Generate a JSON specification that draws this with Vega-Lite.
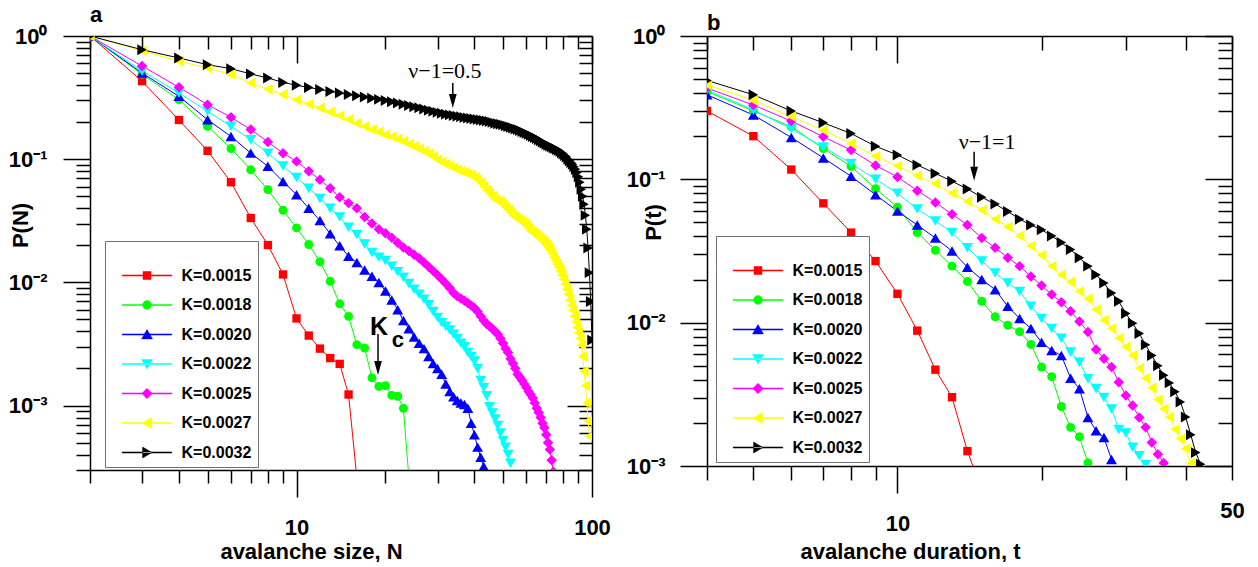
{
"$schema": "https://vega.github.io/schema/vega-lite/v6.json",
"background": "white",
"padding": {"left": 8, "top": 4, "right": 5, "bottom": 0},
"spacing": 15,
"config": {
 "view": {"stroke": null},
 "font": "Liberation Sans",
 "axis": {"domainColor": "#000", "domainWidth": 1.5, "tickColor": "#000", "tickWidth": 1.5, "grid": false, "labelFont": "Liberation Sans", "labelFontWeight": "bold", "labelFontSize": 22, "labelColor": "#000", "titleFont": "Liberation Sans", "titleFontWeight": "bold", "titleFontSize": 22, "titleColor": "#000", "labelOverlap": false, "labelFlush": false, "labelBound": false},
 "title": {"anchor": "start", "frame": "group", "font": "Liberation Sans", "fontSize": 22, "fontWeight": "bold", "color": "#000", "offset": -2, "baseline": "alphabetic"},
 "legend": {"orient": "none", "titleFontSize": 14, "titlePadding": 6, "padding": 6, "strokeColor": "#707070", "fillColor": "white", "labelFont": "Liberation Sans", "labelFontWeight": "bold", "labelFontSize": 16, "labelColor": "#000", "symbolSize": 256, "symbolOffset": 27.5, "labelOffset": 26, "rowPadding": 12.5, "symbolOpacity": 1, "symbolStrokeWidth": 1}
},
"resolve": {"scale": {"color": "independent"}, "legend": {"color": "independent"}},
"datasets": {
"a": [
{"k":"K=0.0015","n":2,"p":1},{"k":"K=0.0015","n":3,"p":0.43},{"k":"K=0.0015","n":4,"p":0.208},{"k":"K=0.0015","n":5,"p":0.117},{"k":"K=0.0015","n":6,"p":0.065},{"k":"K=0.0015","n":7,"p":0.0333},{"k":"K=0.0015","n":8,"p":0.0201},{"k":"K=0.0015","n":9,"p":0.0116},{"k":"K=0.0015","n":10,"p":0.0051},{"k":"K=0.0015","n":11,"p":0.0037},{"k":"K=0.0015","n":12,"p":0.0029},{"k":"K=0.0015","n":13,"p":0.00243},{"k":"K=0.0015","n":14,"p":0.00218},{"k":"K=0.0015","n":15,"p":0.00123},{"k":"K=0.0015","n":16,"p":0.00026},
{"k":"K=0.0018","n":2,"p":1},{"k":"K=0.0018","n":3,"p":0.49},{"k":"K=0.0018","n":4,"p":0.304},{"k":"K=0.0018","n":5,"p":0.185},{"k":"K=0.0018","n":6,"p":0.122},{"k":"K=0.0018","n":7,"p":0.082},{"k":"K=0.0018","n":8,"p":0.0566},{"k":"K=0.0018","n":9,"p":0.0385},{"k":"K=0.0018","n":10,"p":0.0277},{"k":"K=0.0018","n":11,"p":0.0203},{"k":"K=0.0018","n":12,"p":0.0147},{"k":"K=0.0018","n":13,"p":0.0102},{"k":"K=0.0018","n":14,"p":0.0067},{"k":"K=0.0018","n":15,"p":0.0053},{"k":"K=0.0018","n":16,"p":0.00312},{"k":"K=0.0018","n":17,"p":0.00293},{"k":"K=0.0018","n":18,"p":0.00168},{"k":"K=0.0018","n":19,"p":0.00143},{"k":"K=0.0018","n":20,"p":0.00145},{"k":"K=0.0018","n":21,"p":0.00121},{"k":"K=0.0018","n":22,"p":0.00119},{"k":"K=0.0018","n":23,"p":0.00095},{"k":"K=0.0018","n":24,"p":0.00026},
{"k":"K=0.0020","n":2,"p":1},{"k":"K=0.0020","n":3,"p":0.5},{"k":"K=0.0020","n":4,"p":0.324},{"k":"K=0.0020","n":5,"p":0.209},{"k":"K=0.0020","n":6,"p":0.153},{"k":"K=0.0020","n":7,"p":0.112},{"k":"K=0.0020","n":8,"p":0.0875},{"k":"K=0.0020","n":9,"p":0.066},{"k":"K=0.0020","n":10,"p":0.0515},{"k":"K=0.0020","n":11,"p":0.04},{"k":"K=0.0020","n":12,"p":0.0318},{"k":"K=0.0020","n":13,"p":0.0248},{"k":"K=0.0020","n":14,"p":0.0198},{"k":"K=0.0020","n":15,"p":0.0163},{"k":"K=0.0020","n":16,"p":0.0145},{"k":"K=0.0020","n":17,"p":0.0126},{"k":"K=0.0020","n":18,"p":0.0112},{"k":"K=0.0020","n":19,"p":0.01},{"k":"K=0.0020","n":20,"p":0.0085},{"k":"K=0.0020","n":21,"p":0.0072},{"k":"K=0.0020","n":22,"p":0.006},{"k":"K=0.0020","n":23,"p":0.0049},{"k":"K=0.0020","n":24,"p":0.0042},{"k":"K=0.0020","n":25,"p":0.0036},{"k":"K=0.0020","n":26,"p":0.0032},{"k":"K=0.0020","n":27,"p":0.0029},{"k":"K=0.0020","n":28,"p":0.0025},{"k":"K=0.0020","n":29,"p":0.0022},{"k":"K=0.0020","n":30,"p":0.002},{"k":"K=0.0020","n":31,"p":0.0018},{"k":"K=0.0020","n":32,"p":0.0015},{"k":"K=0.0020","n":33,"p":0.0013},{"k":"K=0.0020","n":34,"p":0.00118},{"k":"K=0.0020","n":35,"p":0.0011},{"k":"K=0.0020","n":36,"p":0.00105},{"k":"K=0.0020","n":37,"p":0.00102},{"k":"K=0.0020","n":38,"p":0.00095},{"k":"K=0.0020","n":39,"p":0.00072},{"k":"K=0.0020","n":40,"p":0.00058},{"k":"K=0.0020","n":41,"p":0.00046},{"k":"K=0.0020","n":42,"p":0.00038},{"k":"K=0.0020","n":43,"p":0.00032},
{"k":"K=0.0022","n":2,"p":1},{"k":"K=0.0022","n":3,"p":0.52},{"k":"K=0.0022","n":4,"p":0.345},{"k":"K=0.0022","n":5,"p":0.245},{"k":"K=0.0022","n":6,"p":0.185},{"k":"K=0.0022","n":7,"p":0.144},{"k":"K=0.0022","n":8,"p":0.112},{"k":"K=0.0022","n":9,"p":0.088},{"k":"K=0.0022","n":10,"p":0.071},{"k":"K=0.0022","n":11,"p":0.058},{"k":"K=0.0022","n":12,"p":0.048},{"k":"K=0.0022","n":13,"p":0.04},{"k":"K=0.0022","n":14,"p":0.034},{"k":"K=0.0022","n":15,"p":0.028},{"k":"K=0.0022","n":16,"p":0.0245},{"k":"K=0.0022","n":17,"p":0.0205},{"k":"K=0.0022","n":18,"p":0.0175},{"k":"K=0.0022","n":19,"p":0.016},{"k":"K=0.0022","n":20,"p":0.015},{"k":"K=0.0022","n":21,"p":0.0135},{"k":"K=0.0022","n":22,"p":0.0122},{"k":"K=0.0022","n":23,"p":0.011},{"k":"K=0.0022","n":24,"p":0.0098},{"k":"K=0.0022","n":25,"p":0.0088},{"k":"K=0.0022","n":26,"p":0.008},{"k":"K=0.0022","n":27,"p":0.0073},{"k":"K=0.0022","n":28,"p":0.0066},{"k":"K=0.0022","n":29,"p":0.0058},{"k":"K=0.0022","n":30,"p":0.0052},{"k":"K=0.0022","n":31,"p":0.0047},{"k":"K=0.0022","n":32,"p":0.0044},{"k":"K=0.0022","n":33,"p":0.0041},{"k":"K=0.0022","n":34,"p":0.0038},{"k":"K=0.0022","n":35,"p":0.0035},{"k":"K=0.0022","n":36,"p":0.0032},{"k":"K=0.0022","n":37,"p":0.003},{"k":"K=0.0022","n":38,"p":0.0027},{"k":"K=0.0022","n":39,"p":0.0025},{"k":"K=0.0022","n":40,"p":0.0023},{"k":"K=0.0022","n":41,"p":0.002},{"k":"K=0.0022","n":42,"p":0.0016},{"k":"K=0.0022","n":43,"p":0.0014},{"k":"K=0.0022","n":44,"p":0.0012},{"k":"K=0.0022","n":45,"p":0.00098},{"k":"K=0.0022","n":46,"p":0.00087},{"k":"K=0.0022","n":47,"p":0.00078},{"k":"K=0.0022","n":48,"p":0.00069},{"k":"K=0.0022","n":49,"p":0.0006},{"k":"K=0.0022","n":50,"p":0.00052},{"k":"K=0.0022","n":51,"p":0.00046},{"k":"K=0.0022","n":52,"p":0.0004},{"k":"K=0.0022","n":53,"p":0.00034},
{"k":"K=0.0025","n":2,"p":1},{"k":"K=0.0025","n":3,"p":0.57},{"k":"K=0.0025","n":4,"p":0.383},{"k":"K=0.0025","n":5,"p":0.277},{"k":"K=0.0025","n":6,"p":0.219},{"k":"K=0.0025","n":7,"p":0.174},{"k":"K=0.0025","n":8,"p":0.138},{"k":"K=0.0025","n":9,"p":0.112},{"k":"K=0.0025","n":10,"p":0.096},{"k":"K=0.0025","n":11,"p":0.08},{"k":"K=0.0025","n":12,"p":0.068},{"k":"K=0.0025","n":13,"p":0.058},{"k":"K=0.0025","n":14,"p":0.049},{"k":"K=0.0025","n":15,"p":0.044},{"k":"K=0.0025","n":16,"p":0.04},{"k":"K=0.0025","n":17,"p":0.034},{"k":"K=0.0025","n":18,"p":0.03},{"k":"K=0.0025","n":19,"p":0.027},{"k":"K=0.0025","n":20,"p":0.025},{"k":"K=0.0025","n":21,"p":0.023},{"k":"K=0.0025","n":22,"p":0.021},{"k":"K=0.0025","n":23,"p":0.0192},{"k":"K=0.0025","n":24,"p":0.018},{"k":"K=0.0025","n":25,"p":0.0168},{"k":"K=0.0025","n":26,"p":0.0157},{"k":"K=0.0025","n":27,"p":0.0145},{"k":"K=0.0025","n":28,"p":0.0134},{"k":"K=0.0025","n":29,"p":0.0124},{"k":"K=0.0025","n":30,"p":0.0115},{"k":"K=0.0025","n":31,"p":0.0106},{"k":"K=0.0025","n":32,"p":0.0098},{"k":"K=0.0025","n":33,"p":0.009},{"k":"K=0.0025","n":34,"p":0.0082},{"k":"K=0.0025","n":35,"p":0.0077},{"k":"K=0.0025","n":36,"p":0.0074},{"k":"K=0.0025","n":37,"p":0.0071},{"k":"K=0.0025","n":38,"p":0.0068},{"k":"K=0.0025","n":39,"p":0.0065},{"k":"K=0.0025","n":40,"p":0.0062},{"k":"K=0.0025","n":41,"p":0.0058},{"k":"K=0.0025","n":42,"p":0.0053},{"k":"K=0.0025","n":43,"p":0.0049},{"k":"K=0.0025","n":44,"p":0.0046},{"k":"K=0.0025","n":45,"p":0.0044},{"k":"K=0.0025","n":46,"p":0.0042},{"k":"K=0.0025","n":47,"p":0.004},{"k":"K=0.0025","n":48,"p":0.0038},{"k":"K=0.0025","n":49,"p":0.0035},{"k":"K=0.0025","n":50,"p":0.0032},{"k":"K=0.0025","n":51,"p":0.0029},{"k":"K=0.0025","n":52,"p":0.0027},{"k":"K=0.0025","n":53,"p":0.0024},{"k":"K=0.0025","n":54,"p":0.0022},{"k":"K=0.0025","n":55,"p":0.002},{"k":"K=0.0025","n":56,"p":0.0018},{"k":"K=0.0025","n":57,"p":0.0017},{"k":"K=0.0025","n":58,"p":0.0016},{"k":"K=0.0025","n":59,"p":0.0015},{"k":"K=0.0025","n":60,"p":0.0014},{"k":"K=0.0025","n":61,"p":0.0013},{"k":"K=0.0025","n":62,"p":0.00123},{"k":"K=0.0025","n":63,"p":0.00115},{"k":"K=0.0025","n":64,"p":0.00105},{"k":"K=0.0025","n":65,"p":0.00095},{"k":"K=0.0025","n":66,"p":0.00088},{"k":"K=0.0025","n":67,"p":0.0008},{"k":"K=0.0025","n":68,"p":0.00072},{"k":"K=0.0025","n":69,"p":0.00066},{"k":"K=0.0025","n":70,"p":0.00058},{"k":"K=0.0025","n":71,"p":0.0005},{"k":"K=0.0025","n":72,"p":0.00044},{"k":"K=0.0025","n":73,"p":0.00036},{"k":"K=0.0025","n":74,"p":0.00029},
{"k":"K=0.0027","n":2,"p":1},{"k":"K=0.0027","n":3,"p":0.76},{"k":"K=0.0027","n":4,"p":0.623},{"k":"K=0.0027","n":5,"p":0.55},{"k":"K=0.0027","n":6,"p":0.485},{"k":"K=0.0027","n":7,"p":0.415},{"k":"K=0.0027","n":8,"p":0.37},{"k":"K=0.0027","n":9,"p":0.335},{"k":"K=0.0027","n":10,"p":0.302},{"k":"K=0.0027","n":11,"p":0.28},{"k":"K=0.0027","n":12,"p":0.26},{"k":"K=0.0027","n":13,"p":0.242},{"k":"K=0.0027","n":14,"p":0.225},{"k":"K=0.0027","n":15,"p":0.21},{"k":"K=0.0027","n":16,"p":0.196},{"k":"K=0.0027","n":17,"p":0.184},{"k":"K=0.0027","n":18,"p":0.174},{"k":"K=0.0027","n":19,"p":0.166},{"k":"K=0.0027","n":20,"p":0.158},{"k":"K=0.0027","n":21,"p":0.152},{"k":"K=0.0027","n":22,"p":0.146},{"k":"K=0.0027","n":23,"p":0.14},{"k":"K=0.0027","n":24,"p":0.133},{"k":"K=0.0027","n":25,"p":0.127},{"k":"K=0.0027","n":26,"p":0.121},{"k":"K=0.0027","n":27,"p":0.116},{"k":"K=0.0027","n":28,"p":0.111},{"k":"K=0.0027","n":29,"p":0.105},{"k":"K=0.0027","n":30,"p":0.099},{"k":"K=0.0027","n":31,"p":0.095},{"k":"K=0.0027","n":32,"p":0.091},{"k":"K=0.0027","n":33,"p":0.088},{"k":"K=0.0027","n":34,"p":0.085},{"k":"K=0.0027","n":35,"p":0.082},{"k":"K=0.0027","n":36,"p":0.08},{"k":"K=0.0027","n":37,"p":0.078},{"k":"K=0.0027","n":38,"p":0.076},{"k":"K=0.0027","n":39,"p":0.074},{"k":"K=0.0027","n":40,"p":0.071},{"k":"K=0.0027","n":41,"p":0.068},{"k":"K=0.0027","n":42,"p":0.064},{"k":"K=0.0027","n":43,"p":0.06},{"k":"K=0.0027","n":44,"p":0.056},{"k":"K=0.0027","n":45,"p":0.053},{"k":"K=0.0027","n":46,"p":0.05},{"k":"K=0.0027","n":47,"p":0.047},{"k":"K=0.0027","n":48,"p":0.046},{"k":"K=0.0027","n":49,"p":0.045},{"k":"K=0.0027","n":50,"p":0.043},{"k":"K=0.0027","n":51,"p":0.041},{"k":"K=0.0027","n":52,"p":0.039},{"k":"K=0.0027","n":53,"p":0.037},{"k":"K=0.0027","n":54,"p":0.035},{"k":"K=0.0027","n":55,"p":0.034},{"k":"K=0.0027","n":56,"p":0.033},{"k":"K=0.0027","n":57,"p":0.032},{"k":"K=0.0027","n":58,"p":0.031},{"k":"K=0.0027","n":59,"p":0.03},{"k":"K=0.0027","n":60,"p":0.029},{"k":"K=0.0027","n":61,"p":0.0275},{"k":"K=0.0027","n":62,"p":0.026},{"k":"K=0.0027","n":63,"p":0.0255},{"k":"K=0.0027","n":64,"p":0.0248},{"k":"K=0.0027","n":65,"p":0.024},{"k":"K=0.0027","n":66,"p":0.0232},{"k":"K=0.0027","n":67,"p":0.0225},{"k":"K=0.0027","n":68,"p":0.0217},{"k":"K=0.0027","n":69,"p":0.021},{"k":"K=0.0027","n":70,"p":0.02},{"k":"K=0.0027","n":71,"p":0.0192},{"k":"K=0.0027","n":72,"p":0.0183},{"k":"K=0.0027","n":73,"p":0.0172},{"k":"K=0.0027","n":74,"p":0.016},{"k":"K=0.0027","n":75,"p":0.015},{"k":"K=0.0027","n":76,"p":0.0141},{"k":"K=0.0027","n":77,"p":0.0133},{"k":"K=0.0027","n":78,"p":0.0124},{"k":"K=0.0027","n":79,"p":0.0115},{"k":"K=0.0027","n":80,"p":0.0106},{"k":"K=0.0027","n":81,"p":0.0097},{"k":"K=0.0027","n":82,"p":0.0088},{"k":"K=0.0027","n":83,"p":0.008},{"k":"K=0.0027","n":84,"p":0.0072},{"k":"K=0.0027","n":85,"p":0.0065},{"k":"K=0.0027","n":86,"p":0.0059},{"k":"K=0.0027","n":87,"p":0.0053},{"k":"K=0.0027","n":88,"p":0.0048},{"k":"K=0.0027","n":89,"p":0.0043},{"k":"K=0.0027","n":90,"p":0.0039},{"k":"K=0.0027","n":91,"p":0.0035},{"k":"K=0.0027","n":92,"p":0.0031},{"k":"K=0.0027","n":93,"p":0.0025},{"k":"K=0.0027","n":94,"p":0.0019},{"k":"K=0.0027","n":95,"p":0.00145},{"k":"K=0.0027","n":96,"p":0.00105},{"k":"K=0.0027","n":97,"p":0.00075},{"k":"K=0.0027","n":98,"p":0.00056},
{"k":"K=0.0032","n":2,"p":1},{"k":"K=0.0032","n":3,"p":0.774},{"k":"K=0.0032","n":4,"p":0.663},{"k":"K=0.0032","n":5,"p":0.585},{"k":"K=0.0032","n":6,"p":0.543},{"k":"K=0.0032","n":7,"p":0.492},{"k":"K=0.0032","n":8,"p":0.456},{"k":"K=0.0032","n":9,"p":0.42},{"k":"K=0.0032","n":10,"p":0.398},{"k":"K=0.0032","n":11,"p":0.382},{"k":"K=0.0032","n":12,"p":0.368},{"k":"K=0.0032","n":13,"p":0.355},{"k":"K=0.0032","n":14,"p":0.344},{"k":"K=0.0032","n":15,"p":0.335},{"k":"K=0.0032","n":16,"p":0.327},{"k":"K=0.0032","n":17,"p":0.32},{"k":"K=0.0032","n":18,"p":0.313},{"k":"K=0.0032","n":19,"p":0.306},{"k":"K=0.0032","n":20,"p":0.3},{"k":"K=0.0032","n":21,"p":0.293},{"k":"K=0.0032","n":22,"p":0.286},{"k":"K=0.0032","n":23,"p":0.279},{"k":"K=0.0032","n":24,"p":0.273},{"k":"K=0.0032","n":25,"p":0.267},{"k":"K=0.0032","n":26,"p":0.262},{"k":"K=0.0032","n":27,"p":0.256},{"k":"K=0.0032","n":28,"p":0.25},{"k":"K=0.0032","n":29,"p":0.245},{"k":"K=0.0032","n":30,"p":0.24},{"k":"K=0.0032","n":31,"p":0.236},{"k":"K=0.0032","n":32,"p":0.232},{"k":"K=0.0032","n":33,"p":0.229},{"k":"K=0.0032","n":34,"p":0.226},{"k":"K=0.0032","n":35,"p":0.223},{"k":"K=0.0032","n":36,"p":0.221},{"k":"K=0.0032","n":37,"p":0.218},{"k":"K=0.0032","n":38,"p":0.216},{"k":"K=0.0032","n":39,"p":0.214},{"k":"K=0.0032","n":40,"p":0.212},{"k":"K=0.0032","n":41,"p":0.21},{"k":"K=0.0032","n":42,"p":0.208},{"k":"K=0.0032","n":43,"p":0.206},{"k":"K=0.0032","n":44,"p":0.204},{"k":"K=0.0032","n":45,"p":0.202},{"k":"K=0.0032","n":46,"p":0.199},{"k":"K=0.0032","n":47,"p":0.196},{"k":"K=0.0032","n":48,"p":0.194},{"k":"K=0.0032","n":49,"p":0.192},{"k":"K=0.0032","n":50,"p":0.19},{"k":"K=0.0032","n":51,"p":0.187},{"k":"K=0.0032","n":52,"p":0.184},{"k":"K=0.0032","n":53,"p":0.182},{"k":"K=0.0032","n":54,"p":0.179},{"k":"K=0.0032","n":55,"p":0.176},{"k":"K=0.0032","n":56,"p":0.174},{"k":"K=0.0032","n":57,"p":0.171},{"k":"K=0.0032","n":58,"p":0.168},{"k":"K=0.0032","n":59,"p":0.165},{"k":"K=0.0032","n":60,"p":0.162},{"k":"K=0.0032","n":61,"p":0.159},{"k":"K=0.0032","n":62,"p":0.156},{"k":"K=0.0032","n":63,"p":0.153},{"k":"K=0.0032","n":64,"p":0.15},{"k":"K=0.0032","n":65,"p":0.147},{"k":"K=0.0032","n":66,"p":0.144},{"k":"K=0.0032","n":67,"p":0.141},{"k":"K=0.0032","n":68,"p":0.138},{"k":"K=0.0032","n":69,"p":0.135},{"k":"K=0.0032","n":70,"p":0.132},{"k":"K=0.0032","n":71,"p":0.13},{"k":"K=0.0032","n":72,"p":0.128},{"k":"K=0.0032","n":73,"p":0.126},{"k":"K=0.0032","n":74,"p":0.124},{"k":"K=0.0032","n":75,"p":0.122},{"k":"K=0.0032","n":76,"p":0.12},{"k":"K=0.0032","n":77,"p":0.118},{"k":"K=0.0032","n":78,"p":0.116},{"k":"K=0.0032","n":79,"p":0.113},{"k":"K=0.0032","n":80,"p":0.11},{"k":"K=0.0032","n":81,"p":0.107},{"k":"K=0.0032","n":82,"p":0.104},{"k":"K=0.0032","n":83,"p":0.1},{"k":"K=0.0032","n":84,"p":0.097},{"k":"K=0.0032","n":85,"p":0.094},{"k":"K=0.0032","n":86,"p":0.091},{"k":"K=0.0032","n":87,"p":0.087},{"k":"K=0.0032","n":88,"p":0.083},{"k":"K=0.0032","n":89,"p":0.078},{"k":"K=0.0032","n":90,"p":0.072},{"k":"K=0.0032","n":91,"p":0.065},{"k":"K=0.0032","n":92,"p":0.057},{"k":"K=0.0032","n":93,"p":0.05},{"k":"K=0.0032","n":94,"p":0.043},{"k":"K=0.0032","n":95,"p":0.035},{"k":"K=0.0032","n":96,"p":0.027},{"k":"K=0.0032","n":97,"p":0.019},{"k":"K=0.0032","n":98,"p":0.012},{"k":"K=0.0032","n":99,"p":0.007},{"k":"K=0.0032","n":100,"p":0.0034}
],
"b": [
{"k":"K=0.0015","t":4,"p":0.3},{"k":"K=0.0015","t":5,"p":0.2},{"k":"K=0.0015","t":6,"p":0.117},{"k":"K=0.0015","t":7,"p":0.068},{"k":"K=0.0015","t":8,"p":0.0425},{"k":"K=0.0015","t":9,"p":0.0269},{"k":"K=0.0015","t":10,"p":0.0159},{"k":"K=0.0015","t":11,"p":0.0088},{"k":"K=0.0015","t":12,"p":0.0047},{"k":"K=0.0015","t":13,"p":0.00302},{"k":"K=0.0015","t":14,"p":0.00127},{"k":"K=0.0015","t":15,"p":0.00068},
{"k":"K=0.0018","t":4,"p":0.41},{"k":"K=0.0018","t":5,"p":0.3},{"k":"K=0.0018","t":6,"p":0.233},{"k":"K=0.0018","t":7,"p":0.164},{"k":"K=0.0018","t":8,"p":0.123},{"k":"K=0.0018","t":9,"p":0.086},{"k":"K=0.0018","t":10,"p":0.064},{"k":"K=0.0018","t":11,"p":0.0425},{"k":"K=0.0018","t":12,"p":0.032},{"k":"K=0.0018","t":13,"p":0.0248},{"k":"K=0.0018","t":14,"p":0.0194},{"k":"K=0.0018","t":15,"p":0.0141},{"k":"K=0.0018","t":16,"p":0.011},{"k":"K=0.0018","t":17,"p":0.0096},{"k":"K=0.0018","t":18,"p":0.00865},{"k":"K=0.0018","t":19,"p":0.00705},{"k":"K=0.0018","t":20,"p":0.0049},{"k":"K=0.0018","t":21,"p":0.0042},{"k":"K=0.0018","t":22,"p":0.0026},{"k":"K=0.0018","t":23,"p":0.00186},{"k":"K=0.0018","t":24,"p":0.0016},{"k":"K=0.0018","t":25,"p":0.00105},
{"k":"K=0.0020","t":4,"p":0.389},{"k":"K=0.0020","t":5,"p":0.281},{"k":"K=0.0020","t":6,"p":0.196},{"k":"K=0.0020","t":7,"p":0.141},{"k":"K=0.0020","t":8,"p":0.105},{"k":"K=0.0020","t":9,"p":0.078},{"k":"K=0.0020","t":10,"p":0.06},{"k":"K=0.0020","t":11,"p":0.048},{"k":"K=0.0020","t":12,"p":0.039},{"k":"K=0.0020","t":13,"p":0.0316},{"k":"K=0.0020","t":14,"p":0.0244},{"k":"K=0.0020","t":15,"p":0.02},{"k":"K=0.0020","t":16,"p":0.017},{"k":"K=0.0020","t":17,"p":0.013},{"k":"K=0.0020","t":18,"p":0.0107},{"k":"K=0.0020","t":19,"p":0.0091},{"k":"K=0.0020","t":20,"p":0.0073},{"k":"K=0.0020","t":21,"p":0.0064},{"k":"K=0.0020","t":22,"p":0.0059},{"k":"K=0.0020","t":23,"p":0.0041},{"k":"K=0.0020","t":24,"p":0.00346},{"k":"K=0.0020","t":25,"p":0.00218},{"k":"K=0.0020","t":26,"p":0.00176},{"k":"K=0.0020","t":27,"p":0.00158},{"k":"K=0.0020","t":28,"p":0.00111},
{"k":"K=0.0022","t":4,"p":0.42},{"k":"K=0.0022","t":5,"p":0.305},{"k":"K=0.0022","t":6,"p":0.225},{"k":"K=0.0022","t":7,"p":0.168},{"k":"K=0.0022","t":8,"p":0.129},{"k":"K=0.0022","t":9,"p":0.1},{"k":"K=0.0022","t":10,"p":0.08},{"k":"K=0.0022","t":11,"p":0.062},{"k":"K=0.0022","t":12,"p":0.0513},{"k":"K=0.0022","t":13,"p":0.0425},{"k":"K=0.0022","t":14,"p":0.0333},{"k":"K=0.0022","t":15,"p":0.0269},{"k":"K=0.0022","t":16,"p":0.0222},{"k":"K=0.0022","t":17,"p":0.0189},{"k":"K=0.0022","t":18,"p":0.0165},{"k":"K=0.0022","t":19,"p":0.013},{"k":"K=0.0022","t":20,"p":0.0107},{"k":"K=0.0022","t":21,"p":0.0091},{"k":"K=0.0022","t":22,"p":0.0078},{"k":"K=0.0022","t":23,"p":0.00625},{"k":"K=0.0022","t":24,"p":0.0053},{"k":"K=0.0022","t":25,"p":0.00406},{"k":"K=0.0022","t":26,"p":0.00346},{"k":"K=0.0022","t":27,"p":0.003},{"k":"K=0.0022","t":28,"p":0.0025},{"k":"K=0.0022","t":29,"p":0.0018},{"k":"K=0.0022","t":30,"p":0.0017},{"k":"K=0.0022","t":31,"p":0.00135},{"k":"K=0.0022","t":32,"p":0.00118},{"k":"K=0.0022","t":33,"p":0.00102},
{"k":"K=0.0025","t":4,"p":0.433},{"k":"K=0.0025","t":5,"p":0.33},{"k":"K=0.0025","t":6,"p":0.255},{"k":"K=0.0025","t":7,"p":0.198},{"k":"K=0.0025","t":8,"p":0.16},{"k":"K=0.0025","t":9,"p":0.125},{"k":"K=0.0025","t":10,"p":0.104},{"k":"K=0.0025","t":11,"p":0.0834},{"k":"K=0.0025","t":12,"p":0.069},{"k":"K=0.0025","t":13,"p":0.057},{"k":"K=0.0025","t":14,"p":0.048},{"k":"K=0.0025","t":15,"p":0.039},{"k":"K=0.0025","t":16,"p":0.0333},{"k":"K=0.0025","t":17,"p":0.0284},{"k":"K=0.0025","t":18,"p":0.0248},{"k":"K=0.0025","t":19,"p":0.021},{"k":"K=0.0025","t":20,"p":0.0182},{"k":"K=0.0025","t":21,"p":0.0157},{"k":"K=0.0025","t":22,"p":0.0139},{"k":"K=0.0025","t":23,"p":0.012},{"k":"K=0.0025","t":24,"p":0.0102},{"k":"K=0.0025","t":25,"p":0.0086},{"k":"K=0.0025","t":26,"p":0.0065},{"k":"K=0.0025","t":27,"p":0.0056},{"k":"K=0.0025","t":28,"p":0.0049},{"k":"K=0.0025","t":29,"p":0.00384},{"k":"K=0.0025","t":30,"p":0.0031},{"k":"K=0.0025","t":31,"p":0.00264},{"k":"K=0.0025","t":32,"p":0.00218},{"k":"K=0.0025","t":33,"p":0.00186},{"k":"K=0.0025","t":34,"p":0.00146},{"k":"K=0.0025","t":35,"p":0.00121},{"k":"K=0.0025","t":36,"p":0.00105},
{"k":"K=0.0027","t":4,"p":0.457},{"k":"K=0.0027","t":5,"p":0.355},{"k":"K=0.0027","t":6,"p":0.274},{"k":"K=0.0027","t":7,"p":0.22},{"k":"K=0.0027","t":8,"p":0.178},{"k":"K=0.0027","t":9,"p":0.145},{"k":"K=0.0027","t":10,"p":0.124},{"k":"K=0.0027","t":11,"p":0.106},{"k":"K=0.0027","t":12,"p":0.093},{"k":"K=0.0027","t":13,"p":0.08},{"k":"K=0.0027","t":14,"p":0.07},{"k":"K=0.0027","t":15,"p":0.061},{"k":"K=0.0027","t":16,"p":0.0527},{"k":"K=0.0027","t":17,"p":0.0466},{"k":"K=0.0027","t":18,"p":0.0403},{"k":"K=0.0027","t":19,"p":0.0342},{"k":"K=0.0027","t":20,"p":0.0295},{"k":"K=0.0027","t":21,"p":0.0248},{"k":"K=0.0027","t":22,"p":0.0216},{"k":"K=0.0027","t":23,"p":0.0192},{"k":"K=0.0027","t":24,"p":0.0165},{"k":"K=0.0027","t":25,"p":0.0147},{"k":"K=0.0027","t":26,"p":0.0123},{"k":"K=0.0027","t":27,"p":0.0104},{"k":"K=0.0027","t":28,"p":0.0091},{"k":"K=0.0027","t":29,"p":0.0078},{"k":"K=0.0027","t":30,"p":0.0068},{"k":"K=0.0027","t":31,"p":0.0059},{"k":"K=0.0027","t":32,"p":0.0048},{"k":"K=0.0027","t":33,"p":0.0041},{"k":"K=0.0027","t":34,"p":0.0035},{"k":"K=0.0027","t":35,"p":0.0029},{"k":"K=0.0027","t":36,"p":0.0025},{"k":"K=0.0027","t":37,"p":0.0022},{"k":"K=0.0027","t":38,"p":0.0018},{"k":"K=0.0027","t":39,"p":0.00155},{"k":"K=0.0027","t":40,"p":0.00132},{"k":"K=0.0027","t":41,"p":0.00105},
{"k":"K=0.0032","t":4,"p":0.49},{"k":"K=0.0032","t":5,"p":0.389},{"k":"K=0.0032","t":6,"p":0.3},{"k":"K=0.0032","t":7,"p":0.248},{"k":"K=0.0032","t":8,"p":0.209},{"k":"K=0.0032","t":9,"p":0.17},{"k":"K=0.0032","t":10,"p":0.148},{"k":"K=0.0032","t":11,"p":0.126},{"k":"K=0.0032","t":12,"p":0.11},{"k":"K=0.0032","t":13,"p":0.097},{"k":"K=0.0032","t":14,"p":0.0857},{"k":"K=0.0032","t":15,"p":0.075},{"k":"K=0.0032","t":16,"p":0.0672},{"k":"K=0.0032","t":17,"p":0.0597},{"k":"K=0.0032","t":18,"p":0.0527},{"k":"K=0.0032","t":19,"p":0.048},{"k":"K=0.0032","t":20,"p":0.0445},{"k":"K=0.0032","t":21,"p":0.0403},{"k":"K=0.0032","t":22,"p":0.0362},{"k":"K=0.0032","t":23,"p":0.0324},{"k":"K=0.0032","t":24,"p":0.0284},{"k":"K=0.0032","t":25,"p":0.0248},{"k":"K=0.0032","t":26,"p":0.0216},{"k":"K=0.0032","t":27,"p":0.0189},{"k":"K=0.0032","t":28,"p":0.0161},{"k":"K=0.0032","t":29,"p":0.0141},{"k":"K=0.0032","t":30,"p":0.0116},{"k":"K=0.0032","t":31,"p":0.0099},{"k":"K=0.0032","t":32,"p":0.0084},{"k":"K=0.0032","t":33,"p":0.007},{"k":"K=0.0032","t":34,"p":0.0059},{"k":"K=0.0032","t":35,"p":0.005},{"k":"K=0.0032","t":36,"p":0.0043},{"k":"K=0.0032","t":37,"p":0.0038},{"k":"K=0.0032","t":38,"p":0.0033},{"k":"K=0.0032","t":39,"p":0.0028},{"k":"K=0.0032","t":40,"p":0.0022},{"k":"K=0.0032","t":41,"p":0.00165},{"k":"K=0.0032","t":42,"p":0.00124},{"k":"K=0.0032","t":43,"p":0.00103}
]
},
"hconcat": [
{
 "width": 502, "height": 434,
 "title": {"text": "a"},
 "resolve": {"axis": {"x": "independent", "y": "independent"}},
 "layer": [
  {"data": {"name": "a"}, "mark": {"type": "line", "clip": true, "strokeWidth": 1},
   "encoding": {
    "x": {"field": "n", "type": "quantitative", "scale": {"type": "log", "domain": [2, 100], "nice": false},
      "axis": {"orient": "bottom", "values": [2,3,4,5,6,7,8,9,10,20,30,40,50,60,70,80,90,100], "labelExpr": "datum.value == 10 || datum.value == 100 ? format(datum.value, 'd') : ''", "tickSize": {"condition": {"test": "datum.value == 10 || datum.value == 100", "value": 27}, "value": 13}, "labelPadding": 20, "title": "avalanche size, N", "titleX": 221, "titleY": 88, "titleBaseline": "alphabetic", "titleAlign": "center"}},
    "y": {"field": "p", "type": "quantitative", "scale": {"type": "log", "domain": [0.0003, 1], "nice": false},
      "axis": {"orient": "left", "values": [0.0003,0.0004,0.0005,0.0006,0.0007,0.0008,0.0009,0.001,0.002,0.003,0.004,0.005,0.006,0.007,0.008,0.009,0.01,0.02,0.03,0.04,0.05,0.06,0.07,0.08,0.09,0.1,0.2,0.3,0.4,0.5,0.6,0.7,0.8,0.9,1], "labelExpr": "datum.value == 1 ? '10⁰' : datum.value == 0.1 ? '10⁻¹' : datum.value == 0.01 ? '10⁻²' : datum.value == 0.001 ? '10⁻³' : ''", "tickSize": {"condition": {"test": "datum.value == 1 || datum.value == 0.1 || datum.value == 0.01 || datum.value == 0.001", "value": 27}, "value": 14}, "labelPadding": 16, "title": "P(N)", "titleX": -58, "titleY": 189, "titleAlign": "center"}},
    "color": {"field": "k", "type": "nominal", "scale": {"domain": ["K=0.0015","K=0.0018","K=0.0020","K=0.0022","K=0.0025","K=0.0027","K=0.0032"], "range": ["#ff0000","#00ff00","#0000ff","#00ffff","#ff00ff","#ffff00","#000000"]},
      "legend": {"legendX": 15, "legendY": 205, "title": " ",
        "encode": {"symbols": {"update": {
          "shape": {"signal": "['M-3.1,-0.07H3.1V0.07H-3.1ZM-0.5,-0.5H0.5V0.5H-0.5Z','M-3.1,-0.07H3.1V0.07H-3.1ZM0.55,0A0.55,0.55,0,1,1,-0.55,0A0.55,0.55,0,1,1,0.55,0Z','M-3.1,-0.07H3.1V0.07H-3.1ZM0,-0.62L0.68,0.55L-0.68,0.55Z','M-3.1,-0.07H3.1V0.07H-3.1ZM0,0.62L0.68,-0.55L-0.68,-0.55Z','M-3.1,-0.07H3.1V0.07H-3.1ZM0,-0.65L0.65,0L0,0.65L-0.65,0Z','M-3.1,-0.07H3.1V0.07H-3.1ZM-0.62,0L0.55,-0.68L0.55,0.68Z','M-3.1,-0.07H3.1V0.07H-3.1ZM0.62,0L-0.55,-0.68L-0.55,0.68Z'][indexof(['K=0.0015','K=0.0018','K=0.0020','K=0.0022','K=0.0025','K=0.0027','K=0.0032'], datum.value)]"},
          "fill": {"signal": "['#ff0000','#00ff00','#0000ff','#00ffff','#ff00ff','#ffff00','#000000'][indexof(['K=0.0015','K=0.0018','K=0.0020','K=0.0022','K=0.0025','K=0.0027','K=0.0032'], datum.value)]"},
          "stroke": {"signal": "['#ff0000','#00ff00','#0000ff','#00ffff','#ff00ff','#ffff00','#000000'][indexof(['K=0.0015','K=0.0018','K=0.0020','K=0.0022','K=0.0025','K=0.0027','K=0.0032'], datum.value)]"},
          "strokeWidth": {"value": 0.5}, "strokeOpacity": {"value": 1}, "fillOpacity": {"value": 1}, "opacity": {"value": 1}}}}}}
   }},
  {"data": {"name": "a"}, "mark": {"type": "point", "filled": true, "clip": true, "opacity": 1,
     "shape": {"expr": "['square','circle','triangle-up','triangle-down','diamond','triangle-left','triangle-right'][indexof(['K=0.0015','K=0.0018','K=0.0020','K=0.0022','K=0.0025','K=0.0027','K=0.0032'], datum.k)]"},
     "size": {"expr": "[70,80,120,120,110,120,120][indexof(['K=0.0015','K=0.0018','K=0.0020','K=0.0022','K=0.0025','K=0.0027','K=0.0032'], datum.k)]"}},
   "encoding": {
    "x": {"field": "n", "type": "quantitative", "scale": {"type": "log", "domain": [2, 100], "nice": false},
      "axis": {"orient": "top", "values": [2,3,4,5,6,7,8,9,10,20,30,40,50,60,70,80,90,100], "labels": false, "title": null, "tickSize": {"condition": {"test": "datum.value == 10 || datum.value == 100", "value": -27}, "value": -13}}},
    "y": {"field": "p", "type": "quantitative", "scale": {"type": "log", "domain": [0.0003, 1], "nice": false},
      "axis": {"orient": "right", "values": [0.0003,0.0004,0.0005,0.0006,0.0007,0.0008,0.0009,0.001,0.002,0.003,0.004,0.005,0.006,0.007,0.008,0.009,0.01,0.02,0.03,0.04,0.05,0.06,0.07,0.08,0.09,0.1,0.2,0.3,0.4,0.5,0.6,0.7,0.8,0.9,1], "labels": false, "title": null, "tickSize": {"condition": {"test": "datum.value == 1 || datum.value == 0.1 || datum.value == 0.01 || datum.value == 0.001", "value": -25}, "value": -13}}},
    "color": {"field": "k", "type": "nominal", "scale": {"domain": ["K=0.0015","K=0.0018","K=0.0020","K=0.0022","K=0.0025","K=0.0027","K=0.0032"], "range": ["#ff0000","#00ff00","#0000ff","#00ffff","#ff00ff","#ffff00","#000000"]}, "legend": null}
   }},
  {"data": {"values": [{"n": 31.8, "p": 0.456, "txt": "ν−1=0.5"}]}, "mark": {"type": "text", "font": "Liberation Serif", "fontSize": 22, "align": "center", "baseline": "alphabetic", "color": "#000"},
   "encoding": {"x": {"field": "n", "type": "quantitative", "scale": {"type": "log", "domain": [2, 100], "nice": false}, "axis": null}, "y": {"field": "p", "type": "quantitative", "scale": {"type": "log", "domain": [0.0003, 1], "nice": false}, "axis": null}, "text": {"field": "txt"}}},
  {"data": {"values": [{"n": 19.01, "p": 0.003741, "txt": "K"}]}, "mark": {"type": "text", "font": "Liberation Sans", "fontWeight": "bold", "fontSize": 25, "align": "center", "baseline": "alphabetic", "color": "#000"},
   "encoding": {"x": {"field": "n", "type": "quantitative", "scale": {"type": "log", "domain": [2, 100], "nice": false}, "axis": null}, "y": {"field": "p", "type": "quantitative", "scale": {"type": "log", "domain": [0.0003, 1], "nice": false}, "axis": null}, "text": {"field": "txt"}}},
  {"data": {"values": [{"n": 22.04, "p": 0.002963, "txt": "c"}]}, "mark": {"type": "text", "font": "Liberation Sans", "fontWeight": "bold", "fontSize": 22, "align": "center", "baseline": "alphabetic", "color": "#000"},
   "encoding": {"x": {"field": "n", "type": "quantitative", "scale": {"type": "log", "domain": [2, 100], "nice": false}, "axis": null}, "y": {"field": "p", "type": "quantitative", "scale": {"type": "log", "domain": [0.0003, 1], "nice": false}, "axis": null}, "text": {"field": "txt"}}},
  {"data": {"values": [{"n": 33.8, "p": 0.4155, "p2": 0.2967}, {"n": 18.87, "p": 0.003813, "p2": 0.002019}]}, "mark": {"type": "rule", "color": "#000", "strokeWidth": 1.5},
   "encoding": {"x": {"field": "n", "type": "quantitative", "scale": {"type": "log", "domain": [2, 100], "nice": false}, "axis": null}, "y": {"field": "p", "type": "quantitative", "scale": {"type": "log", "domain": [0.0003, 1], "nice": false}, "axis": null}, "y2": {"field": "p2"}}},
  {"data": {"values": [{"n": 33.8, "p": 0.2967}, {"n": 18.87, "p": 0.002019}]}, "mark": {"type": "point", "shape": "M0,1L-0.55,-1L0.55,-1Z", "size": 196, "filled": true, "color": "#000", "opacity": 1},
   "encoding": {"x": {"field": "n", "type": "quantitative", "scale": {"type": "log", "domain": [2, 100], "nice": false}, "axis": null}, "y": {"field": "p", "type": "quantitative", "scale": {"type": "log", "domain": [0.0003, 1], "nice": false}, "axis": null}}}
 ]
},
{
 "width": 525, "height": 430,
 "title": {"text": "b", "offset": -10},
 "resolve": {"axis": {"x": "independent", "y": "independent"}},
 "layer": [
  {"data": {"name": "b"}, "mark": {"type": "line", "clip": true, "strokeWidth": 1},
   "encoding": {
    "x": {"field": "t", "type": "quantitative", "scale": {"type": "log", "domain": [4, 50], "nice": false},
      "axis": {"orient": "bottom", "values": [4,5,6,7,8,9,10,20,30,40,50], "labelExpr": "datum.value == 10 || datum.value == 50 ? format(datum.value, 'd') : ''", "tickSize": {"condition": {"test": "datum.value == 10", "value": 27}, "value": 14}, "labelPadding": 20, "title": "avalanche duration, t", "titleX": 203, "titleY": 92, "titleBaseline": "alphabetic", "titleAlign": "center"}},
    "y": {"field": "p", "type": "quantitative", "scale": {"type": "log", "domain": [0.001, 1], "nice": false},
      "axis": {"orient": "left", "values": [0.001,0.002,0.003,0.004,0.005,0.006,0.007,0.008,0.009,0.01,0.02,0.03,0.04,0.05,0.06,0.07,0.08,0.09,0.1,0.2,0.3,0.4,0.5,0.6,0.7,0.8,0.9,1], "labelExpr": "datum.value == 1 ? '10⁰' : datum.value == 0.1 ? '10⁻¹' : datum.value == 0.01 ? '10⁻²' : datum.value == 0.001 ? '10⁻³' : ''", "tickSize": {"condition": {"test": "datum.value == 1 || datum.value == 0.1 || datum.value == 0.01 || datum.value == 0.001", "value": 27}, "value": 14}, "labelPadding": 15, "title": "P(t)", "titleX": -42, "titleY": 186, "titleAlign": "center"}},
    "color": {"field": "k", "type": "nominal", "scale": {"domain": ["K=0.0015","K=0.0018","K=0.0020","K=0.0022","K=0.0025","K=0.0027","K=0.0032"], "range": ["#ff0000","#00ff00","#0000ff","#00ffff","#ff00ff","#ffff00","#000000"]},
      "legend": {"legendX": 9, "legendY": 200, "title": " ",
        "encode": {"symbols": {"update": {
          "shape": {"signal": "['M-3.1,-0.07H3.1V0.07H-3.1ZM-0.5,-0.5H0.5V0.5H-0.5Z','M-3.1,-0.07H3.1V0.07H-3.1ZM0.55,0A0.55,0.55,0,1,1,-0.55,0A0.55,0.55,0,1,1,0.55,0Z','M-3.1,-0.07H3.1V0.07H-3.1ZM0,-0.62L0.68,0.55L-0.68,0.55Z','M-3.1,-0.07H3.1V0.07H-3.1ZM0,0.62L0.68,-0.55L-0.68,-0.55Z','M-3.1,-0.07H3.1V0.07H-3.1ZM0,-0.65L0.65,0L0,0.65L-0.65,0Z','M-3.1,-0.07H3.1V0.07H-3.1ZM-0.62,0L0.55,-0.68L0.55,0.68Z','M-3.1,-0.07H3.1V0.07H-3.1ZM0.62,0L-0.55,-0.68L-0.55,0.68Z'][indexof(['K=0.0015','K=0.0018','K=0.0020','K=0.0022','K=0.0025','K=0.0027','K=0.0032'], datum.value)]"},
          "fill": {"signal": "['#ff0000','#00ff00','#0000ff','#00ffff','#ff00ff','#ffff00','#000000'][indexof(['K=0.0015','K=0.0018','K=0.0020','K=0.0022','K=0.0025','K=0.0027','K=0.0032'], datum.value)]"},
          "stroke": {"signal": "['#ff0000','#00ff00','#0000ff','#00ffff','#ff00ff','#ffff00','#000000'][indexof(['K=0.0015','K=0.0018','K=0.0020','K=0.0022','K=0.0025','K=0.0027','K=0.0032'], datum.value)]"},
          "strokeWidth": {"value": 0.5}, "strokeOpacity": {"value": 1}, "fillOpacity": {"value": 1}, "opacity": {"value": 1}}}}}}
   }},
  {"data": {"name": "b"}, "mark": {"type": "point", "filled": true, "clip": true, "opacity": 1,
     "shape": {"expr": "['square','circle','triangle-up','triangle-down','diamond','triangle-left','triangle-right'][indexof(['K=0.0015','K=0.0018','K=0.0020','K=0.0022','K=0.0025','K=0.0027','K=0.0032'], datum.k)]"},
     "size": {"expr": "[70,80,120,120,110,120,120][indexof(['K=0.0015','K=0.0018','K=0.0020','K=0.0022','K=0.0025','K=0.0027','K=0.0032'], datum.k)]"}},
   "encoding": {
    "x": {"field": "t", "type": "quantitative", "scale": {"type": "log", "domain": [4, 50], "nice": false},
      "axis": {"orient": "top", "values": [4,5,6,7,8,9,10,20,30,40,50], "labels": false, "title": null, "tickSize": {"condition": {"test": "datum.value == 10", "value": -27}, "value": -14}}},
    "y": {"field": "p", "type": "quantitative", "scale": {"type": "log", "domain": [0.001, 1], "nice": false},
      "axis": {"orient": "right", "values": [0.001,0.002,0.003,0.004,0.005,0.006,0.007,0.008,0.009,0.01,0.02,0.03,0.04,0.05,0.06,0.07,0.08,0.09,0.1,0.2,0.3,0.4,0.5,0.6,0.7,0.8,0.9,1], "labels": false, "title": null, "tickSize": {"condition": {"test": "datum.value == 1 || datum.value == 0.1 || datum.value == 0.01 || datum.value == 0.001", "value": -27}, "value": -14}}},
    "color": {"field": "k", "type": "nominal", "scale": {"domain": ["K=0.0015","K=0.0018","K=0.0020","K=0.0022","K=0.0025","K=0.0027","K=0.0032"], "range": ["#ff0000","#00ff00","#0000ff","#00ffff","#ff00ff","#ffff00","#000000"]}, "legend": null}
   }},
  {"data": {"values": [{"t": 15.39, "p": 0.1639, "txt": "ν−1=1"}]}, "mark": {"type": "text", "font": "Liberation Serif", "fontSize": 22, "align": "center", "baseline": "alphabetic", "color": "#000"},
   "encoding": {"x": {"field": "t", "type": "quantitative", "scale": {"type": "log", "domain": [4, 50], "nice": false}, "axis": null}, "y": {"field": "p", "type": "quantitative", "scale": {"type": "log", "domain": [0.001, 1], "nice": false}, "axis": null}, "text": {"field": "txt"}}},
  {"data": {"values": [{"t": 14.46, "p": 0.156, "p2": 0.1093}]}, "mark": {"type": "rule", "color": "#000", "strokeWidth": 1.5},
   "encoding": {"x": {"field": "t", "type": "quantitative", "scale": {"type": "log", "domain": [4, 50], "nice": false}, "axis": null}, "y": {"field": "p", "type": "quantitative", "scale": {"type": "log", "domain": [0.001, 1], "nice": false}, "axis": null}, "y2": {"field": "p2"}}},
  {"data": {"values": [{"t": 14.46, "p": 0.1093}]}, "mark": {"type": "point", "shape": "M0,1L-0.55,-1L0.55,-1Z", "size": 196, "filled": true, "color": "#000", "opacity": 1},
   "encoding": {"x": {"field": "t", "type": "quantitative", "scale": {"type": "log", "domain": [4, 50], "nice": false}, "axis": null}, "y": {"field": "p", "type": "quantitative", "scale": {"type": "log", "domain": [0.001, 1], "nice": false}, "axis": null}}}
 ]
}
]
}
